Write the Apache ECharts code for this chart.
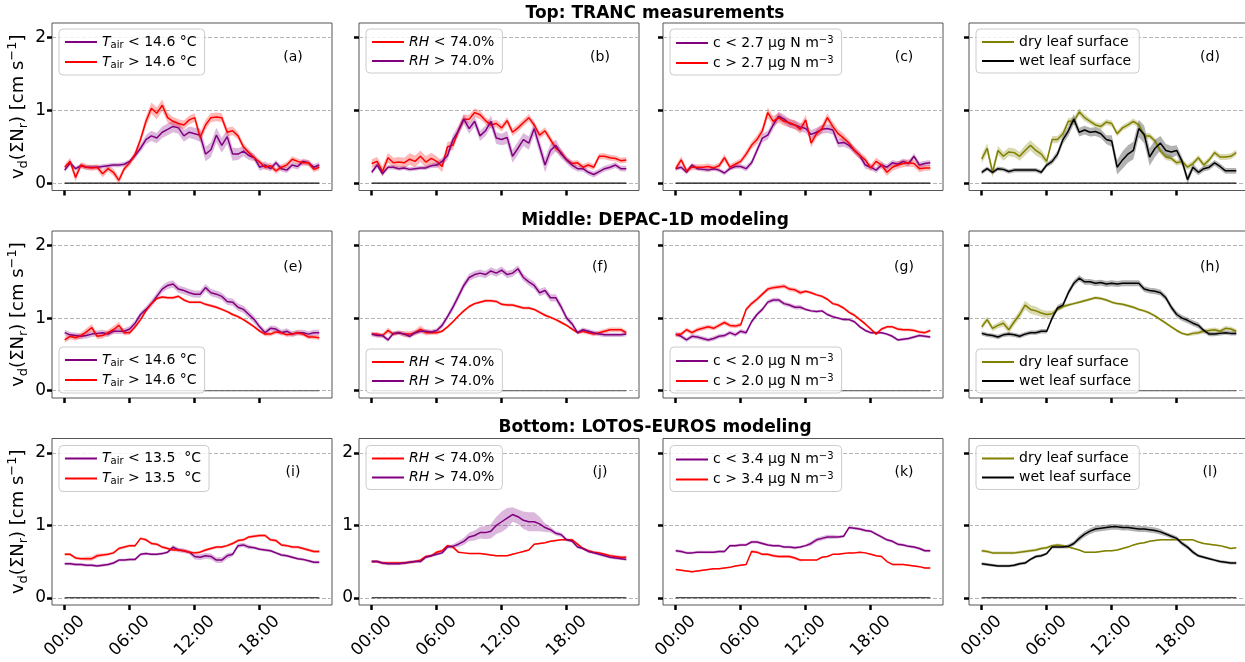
<!DOCTYPE html>
<html><head><meta charset="utf-8">
<script src="https://cdn.jsdelivr.net/npm/echarts@6/dist/echarts.min.js"></script>
<style>html,body{margin:0;padding:0;background:#fff}#c{width:1245px;height:662px}</style>
</head><body><div id="c"></div>
<script>
// ---------- DATA ----------
const hours = [0,0.5,1,1.5,2,2.5,3,3.5,4,4.5,5,5.5,6,6.5,7,7.5,8,8.5,9,9.5,10,10.5,11,11.5,12,12.5,13,13.5,14,14.5,15,15.5,16,16.5,17,17.5,18,18.5,19,19.5,20,20.5,21,21.5,22,22.5,23,23.5];
const xTickValues = [0,6,12,18];
const xTickLabels = ['00:00','06:00','12:00','18:00'];
const yTickValues = [0,1,2];
const rowTitles = ['Top: TRANC measurements','Middle: DEPAC-1D modeling','Bottom: LOTOS-EUROS modeling'];
const panelLetters = ['(a)','(b)','(c)','(d)','(e)','(f)','(g)','(h)','(i)','(j)','(k)','(l)'];

// (a) TRANC, air temperature split
const a_cold = [0.18,0.28,0.20,0.24,0.22,0.22,0.22,0.23,0.24,0.25,0.25,0.26, 0.30,0.38,0.48,0.60,0.65,0.62,0.70,0.74,0.78,0.76,0.65,0.70, 0.68,0.66,0.40,0.46,0.66,0.52,0.64,0.40,0.40,0.44,0.38,0.35, 0.22,0.25,0.20,0.28,0.20,0.18,0.25,0.23,0.30,0.28,0.22,0.25];
const a_cold_err = [0.03,0.04,0.03,0.03,0.03,0.03,0.03,0.03,0.03,0.03,0.03,0.03, 0.03,0.04,0.05,0.06,0.07,0.07,0.08,0.08,0.08,0.08,0.08,0.08, 0.08,0.09,0.10,0.10,0.10,0.10,0.10,0.09,0.08,0.07,0.06,0.05, 0.05,0.05,0.04,0.04,0.04,0.04,0.04,0.04,0.04,0.04,0.04,0.04];
const a_warm = [0.22,0.30,0.08,0.25,0.22,0.21,0.22,0.13,0.20,0.15,0.04,0.20, 0.28,0.40,0.60,0.85,1.03,0.96,1.07,0.90,0.85,0.82,0.80,0.87, 0.90,0.63,0.80,0.90,0.91,0.90,0.70,0.72,0.65,0.50,0.42,0.35, 0.29,0.22,0.24,0.17,0.22,0.25,0.33,0.30,0.28,0.28,0.19,0.22];
const a_warm_err = [0.04,0.05,0.06,0.04,0.04,0.04,0.04,0.05,0.04,0.05,0.05,0.04, 0.04,0.05,0.06,0.07,0.08,0.08,0.08,0.07,0.06,0.06,0.06,0.06, 0.06,0.07,0.07,0.06,0.06,0.06,0.06,0.06,0.05,0.05,0.05,0.04, 0.04,0.04,0.04,0.04,0.04,0.04,0.04,0.04,0.04,0.04,0.04,0.04];
// (b) TRANC, RH split
const b_dry = [0.27,0.30,0.16,0.35,0.28,0.29,0.28,0.33,0.30,0.37,0.29,0.34, 0.30,0.23,0.50,0.52,0.72,0.88,0.88,0.97,0.94,0.86,0.80,0.82, 0.76,0.86,0.70,0.76,0.83,0.90,0.80,0.66,0.72,0.60,0.48,0.42, 0.32,0.27,0.28,0.22,0.25,0.22,0.37,0.37,0.35,0.34,0.31,0.32];
const b_dry_err = [0.06,0.06,0.07,0.07,0.07,0.07,0.07,0.08,0.08,0.08,0.08,0.08, 0.07,0.08,0.07,0.06,0.06,0.06,0.06,0.06,0.06,0.05,0.05,0.05, 0.05,0.05,0.05,0.05,0.05,0.05,0.05,0.05,0.05,0.05,0.05,0.05, 0.04,0.04,0.04,0.04,0.04,0.04,0.04,0.04,0.04,0.04,0.04,0.04];
const b_wet = [0.15,0.25,0.13,0.22,0.22,0.20,0.21,0.19,0.20,0.21,0.21,0.24, 0.25,0.30,0.38,0.60,0.72,0.88,0.75,0.85,0.65,0.72,0.85,0.62, 0.60,0.63,0.37,0.48,0.60,0.55,0.75,0.50,0.25,0.45,0.52,0.40, 0.32,0.25,0.20,0.20,0.15,0.12,0.16,0.20,0.22,0.25,0.20,0.20];
const b_wet_err = [0.03,0.04,0.03,0.03,0.03,0.03,0.03,0.03,0.03,0.03,0.03,0.03, 0.04,0.05,0.06,0.07,0.07,0.07,0.07,0.07,0.07,0.07,0.08,0.08, 0.08,0.09,0.09,0.09,0.09,0.09,0.09,0.09,0.10,0.09,0.08,0.06, 0.05,0.05,0.04,0.04,0.04,0.04,0.04,0.04,0.04,0.04,0.04,0.04];
// (c) TRANC, concentration split
const c_low = [0.20,0.22,0.15,0.25,0.20,0.19,0.18,0.20,0.18,0.14,0.20,0.23, 0.23,0.20,0.28,0.45,0.62,0.66,0.80,0.92,0.88,0.82,0.80,0.77, 0.75,0.67,0.70,0.74,0.75,0.73,0.55,0.56,0.52,0.45,0.38,0.25, 0.22,0.18,0.25,0.22,0.28,0.26,0.30,0.27,0.37,0.25,0.27,0.28];
const c_low_err = [0.03,0.03,0.03,0.03,0.03,0.03,0.03,0.03,0.03,0.03,0.03,0.03, 0.03,0.04,0.04,0.05,0.06,0.06,0.06,0.06,0.06,0.06,0.06,0.06, 0.06,0.06,0.06,0.06,0.06,0.06,0.06,0.06,0.05,0.05,0.05,0.05, 0.04,0.04,0.04,0.04,0.04,0.04,0.04,0.04,0.04,0.04,0.04,0.04];
const c_high = [0.20,0.32,0.17,0.22,0.22,0.22,0.23,0.21,0.24,0.35,0.22,0.26, 0.30,0.40,0.52,0.60,0.72,0.97,0.85,0.90,0.85,0.83,0.80,0.74, 0.87,0.55,0.68,0.75,0.90,0.78,0.68,0.62,0.55,0.45,0.38,0.32, 0.21,0.30,0.25,0.15,0.22,0.25,0.27,0.28,0.27,0.20,0.21,0.21];
const c_high_err = [0.04,0.05,0.04,0.04,0.04,0.04,0.04,0.04,0.04,0.05,0.04,0.04, 0.04,0.05,0.05,0.06,0.06,0.07,0.07,0.07,0.06,0.06,0.06,0.06, 0.07,0.06,0.06,0.06,0.06,0.06,0.06,0.06,0.05,0.05,0.05,0.05, 0.05,0.05,0.05,0.05,0.05,0.05,0.05,0.05,0.05,0.05,0.04,0.04];
// (d) TRANC, leaf wetness split
const d_dry = [0.33,0.48,0.15,0.45,0.37,0.43,0.42,0.37,0.45,0.52,0.45,0.40, 0.30,0.60,0.60,0.68,0.85,0.85,0.98,0.90,0.85,0.80,0.78,0.84, 0.82,0.68,0.76,0.80,0.85,0.80,0.65,0.65,0.58,0.44,0.36,0.34, 0.28,0.30,0.22,0.27,0.35,0.25,0.32,0.42,0.36,0.36,0.37,0.42];
const d_dry_err = [0.06,0.07,0.07,0.06,0.06,0.06,0.06,0.06,0.07,0.07,0.07,0.06, 0.05,0.05,0.05,0.05,0.05,0.05,0.05,0.05,0.04,0.04,0.04,0.04, 0.04,0.04,0.04,0.04,0.04,0.04,0.04,0.04,0.04,0.04,0.04,0.04, 0.04,0.04,0.04,0.04,0.04,0.04,0.04,0.04,0.04,0.04,0.04,0.04];
const d_wet = [0.15,0.20,0.15,0.20,0.19,0.16,0.18,0.18,0.18,0.18,0.18,0.15, 0.25,0.30,0.40,0.60,0.72,0.88,0.70,0.73,0.70,0.71,0.68,0.60, 0.58,0.22,0.32,0.40,0.45,0.75,0.67,0.36,0.48,0.55,0.45,0.43, 0.45,0.30,0.05,0.22,0.15,0.20,0.22,0.28,0.23,0.17,0.17,0.17];
const d_wet_err = [0.03,0.03,0.03,0.03,0.03,0.03,0.03,0.03,0.03,0.03,0.03,0.03, 0.03,0.04,0.05,0.06,0.07,0.07,0.06,0.06,0.06,0.06,0.06,0.06, 0.08,0.10,0.12,0.12,0.12,0.12,0.12,0.12,0.12,0.10,0.09,0.08, 0.07,0.06,0.06,0.05,0.04,0.04,0.04,0.04,0.04,0.04,0.04,0.04];
// (e) DEPAC-1D, air temperature split
const e_cold = [0.80,0.77,0.76,0.75,0.76,0.78,0.79,0.80,0.78,0.82,0.82,0.82, 0.85,0.93,1.05,1.12,1.20,1.30,1.40,1.45,1.47,1.40,1.38,1.35, 1.33,1.33,1.42,1.35,1.33,1.30,1.23,1.22,1.15,1.12,1.05,0.98, 0.88,0.80,0.86,0.85,0.80,0.82,0.78,0.80,0.80,0.78,0.80,0.80];
const e_cold_err = [0.04,0.04,0.04,0.04,0.04,0.04,0.04,0.04,0.04,0.04,0.04,0.04, 0.04,0.04,0.04,0.04,0.05,0.05,0.05,0.05,0.05,0.05,0.05,0.05, 0.05,0.05,0.05,0.05,0.05,0.05,0.05,0.05,0.05,0.05,0.05,0.05, 0.04,0.04,0.04,0.04,0.04,0.04,0.04,0.04,0.04,0.04,0.04,0.04];
const e_warm = [0.70,0.75,0.73,0.76,0.81,0.87,0.75,0.76,0.80,0.84,0.90,0.80, 0.80,0.88,0.98,1.10,1.20,1.27,1.29,1.28,1.28,1.30,1.25,1.22, 1.22,1.22,1.19,1.17,1.15,1.12,1.09,1.05,1.02,0.98,0.93,0.88, 0.82,0.78,0.78,0.81,0.80,0.77,0.78,0.80,0.78,0.74,0.74,0.73];
const e_warm_err = [0.04,0.04,0.04,0.04,0.05,0.05,0.04,0.04,0.04,0.05,0.05,0.04, 0.03,0.03,0.03,0.02,0.02,0.02,0.02,0.02,0.02,0.02,0.02,0.02, 0.02,0.02,0.02,0.02,0.02,0.02,0.02,0.02,0.02,0.02,0.02,0.02, 0.02,0.03,0.03,0.03,0.03,0.03,0.03,0.03,0.03,0.03,0.03,0.03];
// (f) DEPAC-1D, RH split
const f_dry = [0.78,0.78,0.76,0.83,0.78,0.80,0.78,0.78,0.80,0.85,0.80,0.80, 0.80,0.82,0.88,0.95,1.03,1.10,1.16,1.20,1.22,1.24,1.24,1.23, 1.19,1.18,1.18,1.16,1.14,1.14,1.12,1.08,1.04,1.01,0.98,0.94, 0.90,0.85,0.80,0.82,0.80,0.78,0.80,0.82,0.84,0.84,0.84,0.80];
const f_dry_err = [0.03,0.03,0.03,0.04,0.03,0.03,0.04,0.04,0.04,0.05,0.04,0.03, 0.03,0.02,0.02,0.02,0.02,0.02,0.02,0.02,0.02,0.02,0.02,0.02, 0.02,0.02,0.02,0.02,0.02,0.02,0.02,0.02,0.02,0.02,0.02,0.02, 0.02,0.02,0.02,0.03,0.03,0.03,0.03,0.03,0.03,0.03,0.03,0.03];
const f_wet = [0.78,0.76,0.76,0.70,0.79,0.80,0.78,0.75,0.80,0.82,0.82,0.81, 0.83,0.90,1.02,1.15,1.30,1.45,1.56,1.60,1.62,1.60,1.65,1.62, 1.66,1.60,1.62,1.68,1.56,1.50,1.45,1.35,1.38,1.28,1.28,1.15, 1.00,0.92,0.80,0.84,0.82,0.80,0.78,0.77,0.77,0.77,0.77,0.78];
const f_wet_err = [0.03,0.03,0.03,0.03,0.03,0.03,0.03,0.03,0.03,0.03,0.03,0.03, 0.03,0.04,0.04,0.05,0.05,0.05,0.05,0.05,0.05,0.05,0.05,0.05, 0.05,0.05,0.05,0.05,0.05,0.05,0.05,0.05,0.05,0.05,0.05,0.05, 0.04,0.04,0.03,0.03,0.03,0.03,0.03,0.03,0.03,0.03,0.03,0.03];
// (g) DEPAC-1D, concentration split
const g_low = [0.78,0.75,0.70,0.75,0.74,0.72,0.70,0.72,0.75,0.76,0.80,0.77, 0.82,0.80,0.95,1.05,1.12,1.22,1.25,1.25,1.20,1.18,1.15,1.15, 1.12,1.10,1.09,1.10,1.05,1.02,1.00,0.98,0.98,0.95,0.88,0.83, 0.80,0.80,0.80,0.78,0.75,0.70,0.71,0.72,0.74,0.76,0.75,0.74];
const g_low_err = [0.03,0.03,0.03,0.03,0.03,0.03,0.03,0.03,0.03,0.03,0.03,0.03, 0.03,0.03,0.03,0.03,0.03,0.03,0.03,0.03,0.03,0.03,0.03,0.03, 0.02,0.02,0.02,0.02,0.02,0.02,0.02,0.02,0.02,0.02,0.02,0.02, 0.02,0.02,0.02,0.02,0.02,0.02,0.02,0.02,0.02,0.02,0.02,0.02];
const g_high = [0.77,0.78,0.84,0.80,0.84,0.86,0.88,0.86,0.90,0.94,0.90,0.89, 0.91,1.12,1.20,1.26,1.33,1.40,1.42,1.43,1.44,1.40,1.39,1.35, 1.37,1.35,1.32,1.30,1.26,1.20,1.18,1.14,1.08,1.04,0.98,0.92, 0.85,0.78,0.85,0.88,0.88,0.85,0.84,0.84,0.83,0.81,0.80,0.83];
const g_high_err = [0.03,0.03,0.03,0.03,0.03,0.03,0.03,0.03,0.03,0.03,0.03,0.03, 0.03,0.03,0.03,0.03,0.03,0.03,0.03,0.03,0.03,0.03,0.03,0.03, 0.02,0.02,0.02,0.02,0.02,0.02,0.02,0.02,0.02,0.02,0.02,0.02, 0.02,0.02,0.02,0.02,0.02,0.02,0.02,0.02,0.02,0.02,0.02,0.02];
// (h) DEPAC-1D, leaf wetness split
const h_dry = [0.88,0.98,0.86,0.90,0.93,0.84,0.95,1.05,1.18,1.12,1.10,1.07, 1.05,1.06,1.12,1.16,1.18,1.20,1.22,1.24,1.26,1.28,1.27,1.25, 1.22,1.20,1.19,1.17,1.15,1.12,1.10,1.07,1.03,0.98,0.93,0.88, 0.83,0.79,0.77,0.79,0.80,0.82,0.83,0.84,0.82,0.86,0.85,0.82];
const h_dry_err = [0.04,0.04,0.04,0.04,0.05,0.05,0.05,0.06,0.06,0.06,0.06,0.05, 0.05,0.04,0.03,0.03,0.02,0.02,0.02,0.02,0.02,0.02,0.02,0.02, 0.02,0.02,0.02,0.02,0.02,0.02,0.02,0.02,0.02,0.02,0.02,0.02, 0.02,0.02,0.02,0.03,0.03,0.03,0.03,0.03,0.03,0.03,0.03,0.03];
const h_wet = [0.79,0.77,0.76,0.74,0.77,0.78,0.77,0.75,0.78,0.80,0.80,0.82, 0.82,1.00,1.14,1.18,1.35,1.48,1.55,1.50,1.50,1.48,1.49,1.47, 1.48,1.47,1.48,1.48,1.48,1.48,1.40,1.38,1.37,1.35,1.28,1.15, 1.05,1.00,0.97,0.93,0.90,0.83,0.78,0.78,0.79,0.80,0.79,0.79];
const h_wet_err = [0.03,0.03,0.03,0.03,0.03,0.03,0.03,0.03,0.03,0.03,0.03,0.03, 0.03,0.03,0.04,0.04,0.04,0.04,0.04,0.04,0.04,0.04,0.04,0.04, 0.04,0.04,0.04,0.04,0.04,0.04,0.04,0.04,0.04,0.04,0.04,0.04, 0.04,0.04,0.04,0.04,0.04,0.03,0.03,0.03,0.03,0.03,0.03,0.03];
// (i) LOTOS-EUROS, air temperature split
const i_cold = [0.47,0.47,0.46,0.46,0.45,0.45,0.44,0.45,0.46,0.48,0.52,0.52, 0.53,0.53,0.60,0.61,0.60,0.60,0.61,0.63,0.70,0.66,0.65,0.63, 0.57,0.56,0.58,0.57,0.52,0.52,0.58,0.60,0.72,0.73,0.70,0.69, 0.67,0.66,0.65,0.62,0.59,0.58,0.56,0.54,0.53,0.51,0.49,0.49];
const i_cold_err = [0.02,0.02,0.02,0.02,0.02,0.02,0.02,0.02,0.02,0.02,0.02,0.02, 0.02,0.02,0.02,0.02,0.02,0.02,0.02,0.02,0.03,0.03,0.03,0.03, 0.04,0.04,0.04,0.04,0.04,0.04,0.04,0.03,0.03,0.03,0.03,0.02, 0.02,0.02,0.02,0.02,0.02,0.02,0.02,0.02,0.02,0.02,0.02,0.02];
const i_warm = [0.60,0.60,0.55,0.54,0.54,0.54,0.58,0.59,0.60,0.62,0.68,0.70, 0.72,0.72,0.82,0.80,0.75,0.74,0.70,0.68,0.66,0.66,0.65,0.63, 0.62,0.63,0.66,0.68,0.70,0.70,0.72,0.75,0.79,0.80,0.84,0.85, 0.86,0.86,0.80,0.79,0.73,0.72,0.70,0.70,0.68,0.66,0.64,0.64];
const i_warm_err = [0.02,0.02,0.02,0.02,0.03,0.03,0.03,0.02,0.02,0.02,0.02,0.02, 0.02,0.02,0.02,0.02,0.02,0.02,0.02,0.02,0.02,0.02,0.02,0.02, 0.02,0.02,0.02,0.02,0.02,0.02,0.02,0.02,0.02,0.02,0.02,0.02, 0.02,0.02,0.02,0.02,0.02,0.02,0.02,0.02,0.02,0.02,0.02,0.02];
// (j) LOTOS-EUROS, RH split
const j_dry = [0.50,0.50,0.48,0.48,0.48,0.48,0.48,0.49,0.50,0.52,0.57,0.58, 0.63,0.65,0.72,0.70,0.63,0.62,0.61,0.61,0.61,0.60,0.59,0.58, 0.58,0.58,0.60,0.62,0.64,0.66,0.74,0.75,0.76,0.78,0.79,0.80, 0.80,0.80,0.74,0.68,0.65,0.63,0.62,0.60,0.58,0.57,0.56,0.56];
const j_dry_err = [0.02,0.02,0.02,0.02,0.02,0.02,0.02,0.02,0.02,0.02,0.02,0.02, 0.02,0.02,0.02,0.02,0.01,0.01,0.01,0.01,0.01,0.01,0.01,0.01, 0.01,0.01,0.01,0.01,0.01,0.01,0.01,0.01,0.01,0.01,0.01,0.01, 0.02,0.02,0.02,0.02,0.02,0.02,0.02,0.02,0.02,0.02,0.02,0.02];
const j_wet = [0.50,0.50,0.48,0.47,0.47,0.47,0.48,0.49,0.50,0.50,0.56,0.58, 0.60,0.62,0.70,0.71,0.74,0.78,0.84,0.86,0.90,0.90,0.92,1.00, 1.05,1.10,1.15,1.12,1.07,1.05,1.05,1.02,0.97,0.94,0.89,0.87, 0.80,0.78,0.70,0.68,0.64,0.62,0.60,0.58,0.56,0.55,0.54,0.53];
const j_wet_err = [0.02,0.02,0.02,0.02,0.02,0.02,0.02,0.02,0.02,0.02,0.02,0.02, 0.02,0.02,0.02,0.03,0.04,0.05,0.06,0.07,0.08,0.09,0.10,0.12, 0.14,0.14,0.10,0.10,0.12,0.13,0.13,0.10,0.06,0.04,0.03,0.03, 0.02,0.02,0.02,0.02,0.02,0.02,0.02,0.02,0.02,0.02,0.02,0.02];
// (k) LOTOS-EUROS, concentration split
const k_low = [0.65,0.64,0.62,0.62,0.63,0.63,0.63,0.63,0.64,0.64,0.72,0.72, 0.73,0.73,0.77,0.77,0.75,0.73,0.72,0.72,0.70,0.70,0.69,0.70, 0.72,0.75,0.80,0.82,0.84,0.84,0.84,0.85,0.97,0.96,0.95,0.93, 0.92,0.88,0.84,0.80,0.78,0.74,0.73,0.71,0.70,0.68,0.65,0.65];
const k_low_err = [0.02,0.02,0.02,0.02,0.02,0.02,0.02,0.02,0.02,0.02,0.02,0.02, 0.02,0.02,0.02,0.02,0.02,0.02,0.02,0.02,0.02,0.02,0.02,0.02, 0.02,0.03,0.03,0.03,0.03,0.03,0.02,0.02,0.02,0.02,0.02,0.02, 0.02,0.02,0.02,0.02,0.02,0.02,0.02,0.02,0.02,0.02,0.02,0.02];
const k_high = [0.39,0.38,0.37,0.36,0.37,0.38,0.39,0.40,0.40,0.41,0.42,0.44, 0.45,0.46,0.64,0.63,0.60,0.60,0.58,0.57,0.57,0.57,0.55,0.52, 0.52,0.52,0.52,0.56,0.57,0.60,0.60,0.61,0.62,0.62,0.63,0.62, 0.60,0.58,0.57,0.50,0.46,0.46,0.46,0.45,0.44,0.43,0.41,0.41];
const k_high_err = [0.01,0.01,0.01,0.01,0.01,0.01,0.01,0.01,0.01,0.01,0.01,0.01, 0.01,0.01,0.02,0.02,0.02,0.02,0.02,0.02,0.02,0.02,0.02,0.02, 0.01,0.01,0.01,0.01,0.01,0.01,0.01,0.01,0.01,0.01,0.01,0.01, 0.01,0.01,0.01,0.01,0.01,0.01,0.01,0.01,0.01,0.01,0.01,0.01];
// (l) LOTOS-EUROS, leaf wetness split
const l_dry = [0.65,0.64,0.62,0.62,0.62,0.62,0.62,0.63,0.64,0.65,0.66,0.68, 0.69,0.72,0.73,0.72,0.70,0.68,0.66,0.63,0.63,0.63,0.64,0.65, 0.65,0.66,0.68,0.70,0.73,0.75,0.76,0.78,0.79,0.80,0.80,0.80, 0.80,0.80,0.80,0.80,0.77,0.75,0.74,0.73,0.72,0.70,0.68,0.69];
const l_dry_err = [0.02,0.02,0.02,0.02,0.02,0.02,0.02,0.02,0.02,0.02,0.02,0.02, 0.02,0.02,0.02,0.02,0.01,0.01,0.01,0.01,0.01,0.01,0.01,0.01, 0.01,0.01,0.01,0.01,0.01,0.01,0.01,0.01,0.01,0.01,0.01,0.01, 0.01,0.01,0.01,0.01,0.01,0.01,0.01,0.01,0.01,0.01,0.01,0.01];
const l_wet = [0.47,0.46,0.45,0.44,0.44,0.44,0.45,0.47,0.48,0.53,0.57,0.58, 0.61,0.70,0.70,0.70,0.71,0.75,0.82,0.88,0.92,0.95,0.96,0.97, 0.98,0.98,0.97,0.97,0.96,0.95,0.95,0.94,0.93,0.91,0.88,0.85, 0.82,0.75,0.70,0.63,0.58,0.56,0.54,0.52,0.50,0.49,0.48,0.48];
const l_wet_err = [0.02,0.02,0.02,0.02,0.02,0.02,0.02,0.02,0.02,0.02,0.02,0.02, 0.02,0.02,0.02,0.02,0.03,0.03,0.04,0.04,0.04,0.04,0.04,0.04, 0.04,0.04,0.04,0.04,0.04,0.04,0.04,0.04,0.04,0.04,0.03,0.03, 0.03,0.03,0.03,0.03,0.02,0.02,0.02,0.02,0.02,0.02,0.02,0.02];

// legend texts (rich markup)
const lbl_T146_lo = '{i|T}{s|air}{n| < 14.6 °C}';
const lbl_T146_hi = '{i|T}{s|air}{n| > 14.6 °C}';
const lbl_T135_lo = '{i|T}{s|air}{n| < 13.5  °C}';
const lbl_T135_hi = '{i|T}{s|air}{n| > 13.5  °C}';
const lbl_RH_lo = '{i|RH}{n| < 74.0%}';
const lbl_RH_hi = '{i|RH}{n| > 74.0%}';
const lbl_c27_lo = '{n|c < 2.7 µg N m}{p|−3}';
const lbl_c27_hi = '{n|c > 2.7 µg N m}{p|−3}';
const lbl_c20_lo = '{n|c < 2.0 µg N m}{p|−3}';
const lbl_c20_hi = '{n|c > 2.0 µg N m}{p|−3}';
const lbl_c34_lo = '{n|c < 3.4 µg N m}{p|−3}';
const lbl_c34_hi = '{n|c > 3.4 µg N m}{p|−3}';
const lbl_dry = '{n|dry leaf surface}';
const lbl_wet = '{n|wet leaf surface}';

// ---------- STYLE / LAYOUT ----------
const PURPLE = '#800080', RED = '#ff0000', OLIVE = '#808000', BLACK = '#000000';
const BAND = {};
BAND[PURPLE] = 'rgba(128,0,128,0.28)';
BAND[RED] = 'rgba(255,0,0,0.28)';
BAND[OLIVE] = 'rgba(128,128,0,0.3)';
BAND[BLACK] = 'rgba(0,0,0,0.3)';

const panels = [
  [[a_cold,a_cold_err,PURPLE,lbl_T146_lo],[a_warm,a_warm_err,RED,lbl_T146_hi]],
  [[b_dry,b_dry_err,RED,lbl_RH_lo],[b_wet,b_wet_err,PURPLE,lbl_RH_hi]],
  [[c_low,c_low_err,PURPLE,lbl_c27_lo],[c_high,c_high_err,RED,lbl_c27_hi]],
  [[d_dry,d_dry_err,OLIVE,lbl_dry],[d_wet,d_wet_err,BLACK,lbl_wet]],
  [[e_cold,e_cold_err,PURPLE,lbl_T146_lo],[e_warm,e_warm_err,RED,lbl_T146_hi]],
  [[f_dry,f_dry_err,RED,lbl_RH_lo],[f_wet,f_wet_err,PURPLE,lbl_RH_hi]],
  [[g_low,g_low_err,PURPLE,lbl_c20_lo],[g_high,g_high_err,RED,lbl_c20_hi]],
  [[h_dry,h_dry_err,OLIVE,lbl_dry],[h_wet,h_wet_err,BLACK,lbl_wet]],
  [[i_cold,i_cold_err,PURPLE,lbl_T135_lo],[i_warm,i_warm_err,RED,lbl_T135_hi]],
  [[j_dry,j_dry_err,RED,lbl_RH_lo],[j_wet,j_wet_err,PURPLE,lbl_RH_hi]],
  [[k_low,k_low_err,PURPLE,lbl_c34_lo],[k_high,k_high_err,RED,lbl_c34_hi]],
  [[l_dry,l_dry_err,OLIVE,lbl_dry],[l_wet,l_wet_err,BLACK,lbl_wet]]
];

const colLeft = [52, 359, 663, 969];
const panelW = 280;
const rowTop = [23, 231, 438.5];
const rowH = [167.5, 167, 166.5];
const H = 662;
const FONT = 'DejaVu Sans';

const legendRich = {
  n: {fontSize: 14, fontFamily: FONT, color: '#000', lineHeight: 16},
  i: {fontSize: 14, fontFamily: FONT, fontStyle: 'italic', color: '#000', lineHeight: 16},
  s: {fontSize: 10, fontFamily: FONT, color: '#000', lineHeight: 10, verticalAlign: 'bottom'},
  p: {fontSize: 10, fontFamily: FONT, color: '#000', lineHeight: 10, verticalAlign: 'top'}
};

const grids = [], xAxes = [], yAxes = [], series = [], legends = [], graphics = [];
const legendText = {};

function bandSeries(k, vals, err, color) {
  return {type: 'custom', xAxisIndex: k, yAxisIndex: k, silent: true, z: 3, clip: true,
    data: hours.map(function (h, i) { return [h, vals[i] - err[i], vals[i] + err[i]]; }),
    encode: {x: 0, y: [1, 2]},
    renderItem: function (params, api) {
      if (params.dataIndex !== 0) return null;
      const up = hours.map(function (h, i) { return api.coord([h, vals[i] + err[i]]); });
      const lo = hours.map(function (h, i) { return api.coord([h, vals[i] - err[i]]); }).reverse();
      return {type: 'polygon', shape: {points: up.concat(lo)}, style: {fill: BAND[color], stroke: null}};
    }};
}

panels.forEach(function (lines, k) {
  const row = Math.floor(k / 4), col = k % 4;
  grids.push({left: colLeft[col], top: rowTop[row], width: panelW, height: rowH[row],
    show: true, borderColor: '#555', borderWidth: 1, backgroundColor: 'transparent',
    containLabel: false, outerBoundsMode: 'none'});
  xAxes.push({type: 'value', gridIndex: k, min: -1.175, max: 24.675, position: 'bottom',
    axisLine: {show: false, onZero: false}, splitLine: {show: false},
    axisTick: {show: true, customValues: xTickValues, length: 5, lineStyle: {color: '#000', width: 2.5}},
    axisLabel: {show: row === 2, customValues: xTickValues, rotate: 45, align: 'center', verticalAlign: 'middle',
      fontSize: 17, fontFamily: FONT, color: '#000', margin: 31,
      formatter: function (v) { return xTickLabels[xTickValues.indexOf(v)]; }}});
  const showY = col === 0 || k === 9;
  const yax = {type: 'value', gridIndex: k, min: -0.1, max: 2.2, position: 'left',
    axisLine: {show: false, onZero: false}, splitLine: {show: false},
    axisTick: {show: true, customValues: yTickValues, length: 5, lineStyle: {color: '#000', width: 2.5}},
    axisLabel: {show: showY, customValues: yTickValues, fontSize: 17, fontFamily: FONT, color: '#000', margin: 6}};
  if (col === 0) {
    yax.name = '{n|v}{s|d}{n|(ΣN}{s|r}{n|) [cm s}{p|−1}{n|]}';
    yax.nameLocation = 'middle';
    yax.nameGap = 22;
    yax.nameTextStyle = {rich: {
      n: {fontSize: 18, fontFamily: FONT, color: '#000', lineHeight: 24},
      s: {fontSize: 13, fontFamily: FONT, color: '#000', lineHeight: 13, verticalAlign: 'bottom'},
      p: {fontSize: 13, fontFamily: FONT, color: '#000', lineHeight: 13, verticalAlign: 'top'}
    }};
  }
  yAxes.push(yax);

  // dashed grid lines at the y ticks
  series.push({type: 'line', xAxisIndex: k, yAxisIndex: k, data: [], silent: true,
    markLine: {silent: true, symbol: ['none', 'none'], z: 1, label: {show: false},
      lineStyle: {color: '#b5b5b5', type: [4, 2], width: 1},
      emphasis: {disabled: true},
      data: yTickValues.map(function (v) { return {yAxis: v}; })}});
  // horizontal zero line over the data range
  series.push({type: 'line', xAxisIndex: k, yAxisIndex: k, silent: true, symbol: 'none', z: 2,
    lineStyle: {color: row === 1 ? '#555' : '#111', width: 1.2},
    data: [[hours[0], 0], [hours[hours.length - 1], 0]]});

  const names = [];
  lines.forEach(function (ln, m) {
    const vals = ln[0], err = ln[1], color = ln[2];
    const nm = 'p' + k + '_' + m;
    names.push(nm);
    legendText[nm] = ln[3];
    series.push(bandSeries(k, vals, err, color));
    series.push({name: nm, type: 'line', xAxisIndex: k, yAxisIndex: k, symbol: 'none', z: 4,
      color: color, lineStyle: {color: color, width: 1.5},
      data: hours.map(function (h, i) { return [h, vals[i]]; })});
  });

  const lg = {data: names, orient: 'vertical', left: colLeft[col] + 7,
    icon: 'rect', itemWidth: 32, itemHeight: 2, itemGap: 5,
    padding: [6, 8, 5, 6], backgroundColor: 'rgba(255,255,255,0.8)',
    borderColor: '#cccccc', borderWidth: 1, borderRadius: 4,
    selectedMode: false,
    formatter: function (n) { return legendText[n]; },
    textStyle: {fontFamily: FONT, fontSize: 14, color: '#000', rich: legendRich}};
  if (row === 1) lg.bottom = H - (rowTop[row] + rowH[row] - 5);
  else lg.top = rowTop[row] + (row === 0 ? 6 : 7);
  legends.push(lg);

  graphics.push({type: 'text', x: colLeft[col] + 241, y: rowTop[row] + 34 + (row === 1 ? 2 : 0),
    style: {text: panelLetters[k], fontSize: 14, fontFamily: FONT, fill: '#000', textAlign: 'center', textVerticalAlign: 'middle'}});
});

const titleY = [14, 221, 428];
rowTitles.forEach(function (t, r) {
  graphics.push({type: 'text', x: 655, y: titleY[r],
    style: {text: t, fontSize: 17, fontWeight: 'bold', fontFamily: FONT, fill: '#000', textAlign: 'center', textVerticalAlign: 'middle'}});
});

const chart = echarts.init(document.getElementById('c'), null, {renderer: 'canvas'});
chart.setOption({
  animation: false,
  backgroundColor: '#fff',
  grid: grids, xAxis: xAxes, yAxis: yAxes, series: series, legend: legends,
  graphic: graphics
});
</script>
</body></html>
